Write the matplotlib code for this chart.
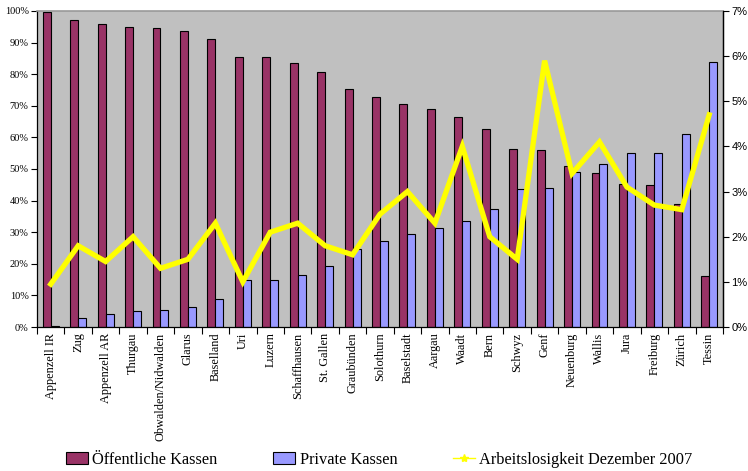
import numpy as np
import matplotlib.pyplot as plt
from matplotlib.patches import Patch
from matplotlib.lines import Line2D
from matplotlib.ticker import FuncFormatter, MultipleLocator

# Anteil öffentliche / private Arbeitslosenkassen nach Kanton, dazu Arbeitslosenquote
kantone = ['Appenzell IR', 'Zug', 'Appenzell AR', 'Thurgau', 'Obwalden/Nidwalden',
           'Glarus', 'Baselland', 'Uri', 'Luzern', 'Schaffhausen', 'St. Gallen',
           'Graubünden', 'Solothurn', 'Baselstadt', 'Aargau', 'Waadt', 'Bern',
           'Schwyz', 'Genf', 'Neuenburg', 'Wallis', 'Jura', 'Freiburg', 'Zürich',
           'Tessin']
oeffentlich = [99.8, 97.1, 95.8, 94.8, 94.5, 93.8, 91.2, 85.3, 85.3, 83.6, 80.6,
               75.3, 72.9, 70.6, 68.9, 66.6, 62.6, 56.2, 56.0, 51.0, 48.6, 45.2,
               45.0, 39.0, 16.1]
privat = [0.2, 2.9, 4.2, 5.2, 5.5, 6.2, 8.8, 14.8, 14.8, 16.4, 19.3, 24.6, 27.1,
          29.4, 31.2, 33.4, 37.4, 43.7, 44.0, 49.0, 51.5, 55.0, 55.0, 61.0, 84.0]
arbeitslosigkeit = [0.95, 1.8, 1.45, 2.0, 1.3, 1.5, 2.3, 1.0, 2.1, 2.3, 1.8, 1.6,
                    2.5, 3.0, 2.3, 4.0, 2.0, 1.5, 5.9, 3.4, 4.1, 3.1, 2.7, 2.6, 4.7]

serif = ['Liberation Serif', 'DejaVu Serif']
sans = ['Liberation Sans', 'DejaVu Sans']

fig = plt.figure(figsize=(7.48, 4.71), dpi=100)
ax = fig.add_axes([0.0495, 0.3057, 0.917, 0.671])
ax.set_facecolor('#C0C0C0')

x = np.arange(len(kantone))
w = 0.29
ax.bar(x - w / 2, oeffentlich, width=w, color='#993366', edgecolor='black',
       linewidth=0.8, zorder=2)
ax.bar(x + w / 2, privat, width=w, color='#9999FF', edgecolor='black',
       linewidth=0.8, zorder=2)

ax.set_xlim(-0.5, len(kantone) - 0.5)
ax.set_ylim(0, 100)
ax.yaxis.set_major_locator(MultipleLocator(10))
ax.yaxis.set_major_formatter(FuncFormatter(lambda v, p: f'{v:.0f}%'))
for lab in ax.get_yticklabels():
    lab.set_family(serif)
    lab.set_fontsize(7.5)
ax.tick_params(axis='y', length=4, width=0.8, pad=2)

# Kategorien-Beschriftung in der Mitte, Striche an den Gruppengrenzen
ax.set_xticks(x)
ax.set_xticklabels(kantone, rotation=90, family=serif, fontsize=8.8)
ax.tick_params(axis='x', which='major', length=0, pad=4)
ax.set_xticks(np.arange(len(kantone) + 1) - 0.5, minor=True)
ax.tick_params(axis='x', which='minor', length=5, width=0.8, direction='out')

for s in ['left', 'bottom', 'right']:
    ax.spines[s].set_color('black')
    ax.spines[s].set_linewidth(0.9)
ax.spines['top'].set_color('#999999')
ax.spines['top'].set_linewidth(1.2)

ax2 = ax.twinx()
ax2.plot(x, arbeitslosigkeit, color='#FFFF00', linewidth=3.8,
         solid_joinstyle='miter', zorder=3)
ax2.set_ylim(0, 7)
ax2.yaxis.set_major_locator(MultipleLocator(1))
ax2.yaxis.set_major_formatter(FuncFormatter(lambda v, p: f'{v:.0f}%'))
for lab in ax2.get_yticklabels():
    lab.set_family(sans)
    lab.set_fontsize(8)
ax2.tick_params(axis='y', length=4, width=0.8, pad=2)
ax2.spines['right'].set_linewidth(0.9)
ax2.spines['top'].set_visible(False)
ax2.spines['left'].set_visible(False)
ax2.spines['bottom'].set_visible(False)

handles = [Patch(facecolor='#993366', edgecolor='black', linewidth=0.8),
           Patch(facecolor='#9999FF', edgecolor='black', linewidth=0.8),
           Line2D([], [], color='#FFFF00', linewidth=1, marker='*', markersize=6)]
fig.legend(handles, ['Öffentliche Kassen', 'Private Kassen',
                     'Arbeitslosigkeit Dezember 2007'],
           loc='lower center', bbox_to_anchor=(0.507, -0.024), ncol=3,
           frameon=False, prop={'family': serif, 'size': 11.8},
           columnspacing=3.4, handlelength=1.35, handletextpad=0.25)

fig.savefig('out.png', dpi=100)
